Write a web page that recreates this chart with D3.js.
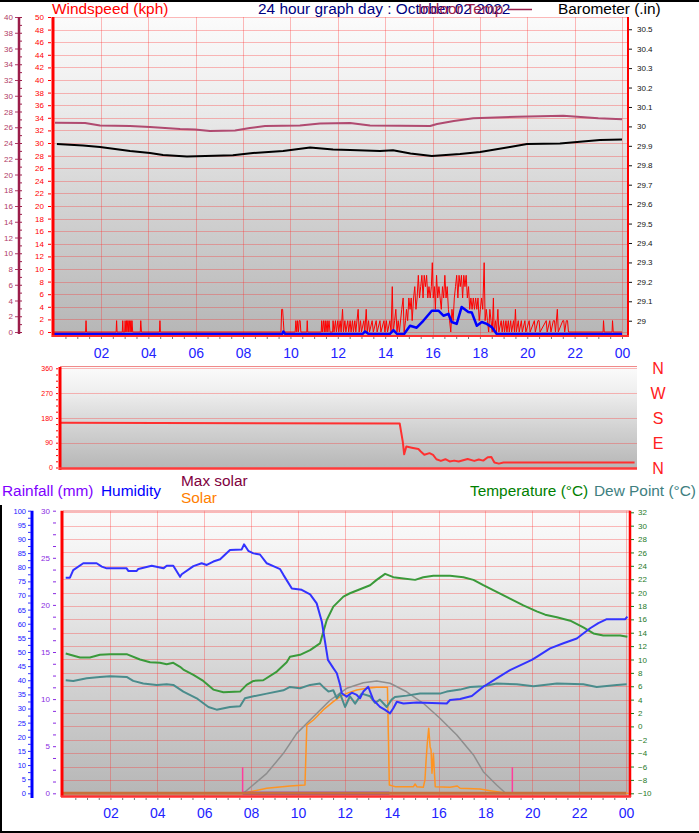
<!doctype html>
<html lang="en">
<head>
<meta charset="utf-8">
<title>24 hour graph day : October 02 2022</title>
<script src="https://cdn.jsdelivr.net/npm/d3@7"></script>
<style>
  body { margin: 0; background: #fff; }
  svg text { font-family: "Liberation Sans", Arial, sans-serif; }
</style>
</head>
<body>
<svg width="699" height="833"></svg>
<script>
// ---------- data (hour of day, value) ----------
var hourTicks = [2, 4, 6, 8, 10, 12, 14, 16, 18, 20, 22, 24];
var hourLabels = ['02', '04', '06', '08', '10', '12', '14', '16', '18', '20', '22', '00'];

// top panel: wind gust / average (kph), barometer (in), indoor temp (C)
var gust = [
  [0,0],[1.35,0],[1.37,1.8],[1.39,0],[2.64,0],[2.66,1.8],[2.68,0],[2.9,0],[2.92,1.8],[2.94,0],
  [3.0,0],[3.02,1.8],[3.05,0],[3.08,1.8],[3.1,0],[3.13,1.8],[3.15,1.8],[3.17,0],[3.2,1.8],[3.23,0],
  [3.26,1.8],[3.28,0],[3.31,1.8],[3.34,0],[3.66,0],[3.68,1.8],[3.71,0],[4.47,0],[4.49,1.8],[4.51,0],
  [9.6,0],[9.63,3.6],[9.67,3.6],[9.7,1.8],[9.73,0],[10.2,0],[10.23,1.8],[10.27,0],[10.3,1.8],[10.34,0],
  [10.37,1.8],[10.41,1.8],[10.44,0],[10.69,0],[10.71,1.8],[10.73,0],[11.3,0],[11.32,1.8],[11.35,0],
  [11.4,1.8],[11.43,0],[11.47,1.8],[11.5,0],[11.55,1.8],[11.58,0],[11.63,1.8],[11.67,0],[11.78,0],
  [11.8,1.8],[11.84,0],[11.9,1.8],[11.94,0],[12.0,1.8],[12.04,0],[12.1,1.8],[12.14,0],[12.2,3.6],
  [12.24,0],[12.3,1.8],[12.34,0],[12.42,1.8],[12.46,0],[12.52,1.8],[12.56,0],[12.62,1.8],[12.66,0],
  [12.72,1.8],[12.76,0],[12.86,3.6],[12.9,0],[12.96,1.8],[13.0,0],[13.1,1.8],[13.14,0],[13.2,3.6],
  [13.24,0],[13.3,1.8],[13.34,0],[13.45,1.8],[13.5,0],[13.62,1.8],[13.66,0],[13.78,1.8],[13.82,0],
  [13.95,1.8],[13.99,0],[14.05,1.8],[14.1,0],[14.2,1.8],[14.25,0],[14.3,7.2],[14.34,0],[14.4,1.8],
  [14.45,3.6],[14.5,0],[14.55,1.8],[14.6,0],[14.7,3.6],[14.76,5.4],[14.8,0],[14.86,1.8],[14.9,3.6],
  [14.95,1.8],[15.0,5.4],[15.05,3.6],[15.1,5.4],[15.14,1.8],[15.2,5.4],[15.25,7.2],[15.3,3.6],
  [15.35,5.4],[15.4,9],[15.45,5.4],[15.5,7.2],[15.55,9],[15.6,5.4],[15.65,9],[15.7,7.2],[15.75,9],
  [15.8,5.4],[15.85,7.2],[15.9,5.4],[15.95,7.2],[15.99,11],[16.03,5.4],[16.08,7.2],[16.12,3.6],
  [16.17,9],[16.22,5.4],[16.27,7.2],[16.32,5.4],[16.37,3.6],[16.42,7.2],[16.47,5.4],[16.52,9],
  [16.57,5.4],[16.62,7.2],[16.67,3.6],[16.72,1.8],[16.77,0],[16.82,3.6],[16.87,1.8],[16.92,5.4],
  [16.97,7.2],[17.02,9],[17.07,5.4],[17.12,9],[17.17,7.2],[17.22,9],[17.27,5.4],[17.32,9],[17.37,7.2],
  [17.42,9],[17.47,5.4],[17.52,7.2],[17.57,3.6],[17.62,5.4],[17.67,3.6],[17.72,5.4],[17.77,3.6],
  [17.82,5.4],[17.87,3.6],[17.92,5.4],[17.97,1.8],[18.02,3.6],[18.07,5.4],[18.12,3.6],[18.18,11],
  [18.22,1.8],[18.27,3.6],[18.32,1.8],[18.37,0],[18.42,3.6],[18.47,1.8],[18.52,0],[18.57,5.4],
  [18.6,0],[18.66,1.8],[18.7,0],[18.76,3.6],[18.8,0],[18.9,1.8],[18.94,0],[19.0,1.8],[19.04,0],
  [19.1,1.8],[19.14,0],[19.2,1.8],[19.24,0],[19.3,1.8],[19.34,0],[19.42,1.8],[19.46,0],[19.5,3.6],
  [19.54,0],[19.62,1.8],[19.66,0],[19.75,1.8],[19.79,0],[19.9,1.8],[19.94,0],[20.08,1.8],[20.12,0],
  [20.3,1.8],[20.34,0],[20.45,1.8],[20.5,1.8],[20.54,0],[20.8,1.8],[20.84,0],[20.95,1.8],[21.0,0],
  [21.1,1.8],[21.15,1.8],[21.19,0],[21.27,3.6],[21.31,0],[21.5,1.8],[21.54,1.8],[21.58,0],
  [21.65,1.8],[21.7,1.8],[21.74,0],[23.2,0],[23.22,1.8],[23.25,0],[23.58,0],[23.6,1.8],[23.63,0],[24,0]
];
var windAvg = [
  [0,0],[9.65,0],[9.7,0.4],[9.78,0],[13.05,0],[13.15,0.4],[13.3,0],[14.2,0],[14.35,0.6],[14.5,0],
  [14.8,0],[15.05,1.3],[15.33,1.0],[15.61,2.1],[15.97,3.7],[16.25,3.7],[16.46,2.9],[16.67,3.2],
  [16.81,1.9],[17.02,1.6],[17.23,4.3],[17.51,3.5],[17.66,3.4],[17.87,1.3],[18.08,1.9],[18.29,1.6],
  [18.5,1.1],[18.71,0],[24,0]
];
var barometer = [
  [0.14,29.909],[1.24,29.902],[1.96,29.894],[3.23,29.873],[4.07,29.863],[4.62,29.853],[5.63,29.845],
  [7.57,29.851],[8.42,29.863],[9.69,29.873],[10.83,29.891],[11.8,29.881],[12.52,29.879],[13.78,29.873],
  [14.33,29.877],[15.07,29.861],[15.97,29.848],[17.16,29.858],[18.01,29.868],[19.27,29.894],
  [19.99,29.909],[21.38,29.912],[23.07,29.930],[24.0,29.933]
];
var indoorTemp = [
  [0.06,26.58],[1.33,26.54],[1.96,26.22],[3.23,26.16],[4.07,26.03],[5.34,25.78],[5.97,25.71],
  [6.6,25.52],[7.66,25.59],[8.29,25.9],[8.93,26.16],[10.4,26.22],[11.25,26.48],[12.52,26.54],
  [13.36,26.22],[15.9,26.16],[16.19,26.41],[16.9,26.79],[17.72,27.14],[19.57,27.34],[21.52,27.47],
  [23.0,27.14],[24.0,27.01]
];

// middle panel: wind direction (degrees)
var windDir = [
  [0.05,162],[14.43,160],[14.56,94],[14.62,48],[14.71,76],[14.94,72],[15.22,67],[15.32,58],[15.47,46],
  [15.69,52],[15.84,46],[15.98,30],[16.17,24],[16.36,30],[16.54,22],[16.73,25],[16.92,22],[17.3,31],
  [17.58,24],[17.77,29],[17.96,25],[18.15,37],[18.3,38],[18.43,18],[18.62,14],[18.81,18],[24.35,18]
];
var dirTicks = [0, 90, 180, 270, 360];
var compassLabels = ['N', 'E', 'S', 'W', 'N'];

// bottom panel: humidity (%), temperature / dew point (C), solar (W/m2), rain (mm)
var humidity = [
  [0.09,76.3],[0.27,76.3],[0.41,79],[0.84,81.4],[1.41,81.4],[1.63,80.2],[1.84,79.6],[2.69,79.6],
  [2.76,78.7],[3.12,78.7],[3.19,79.4],[3.76,80.5],[4.26,79.6],[4.4,80.5],[4.68,80.5],[4.97,76.6],
  [5.04,77.5],[5.54,80.4],[5.89,81.4],[6.11,80.8],[6.39,82],[6.68,82.8],[7.1,86.1],[7.6,86.3],
  [7.7,88.1],[7.88,85.8],[8.1,84.9],[8.38,84.5],[8.67,81.4],[8.95,80.4],[9.24,79.3],[9.38,77.3],
  [9.74,72.5],[10.16,72],[10.52,70.4],[10.8,67.2],[11.02,60.7],[11.28,47.2],[11.51,44.3],[11.66,42.5],
  [11.8,38.3],[11.87,35.4],[12.08,34.2],[12.3,35.6],[12.51,34.8],[12.65,33.6],[12.79,36],[13.0,37.7],
  [13.22,33],[13.5,30.6],[13.72,29.5],[13.93,28.3],[14.07,30.1],[14.22,32.4],[14.5,31.8],[15.07,32.1],
  [16.35,31.8],[16.49,33],[16.92,33.4],[17.42,34.4],[17.91,37.7],[18.48,40.7],[19.05,43.6],
  [19.98,47.2],[20.19,48.3],[20.76,51.3],[21.33,53.1],[21.9,54.8],[22.47,58.4],[22.82,60.2],
  [23.18,61.6],[23.96,61.6],[24.06,62.5]
];
var temperature = [
  [0.09,10.9],[0.7,10.3],[1.12,10.3],[1.55,10.7],[1.98,10.8],[2.69,10.8],[3.26,10.0],[3.69,9.6],
  [4.11,9.5],[4.4,9.3],[4.68,9.5],[4.97,8.9],[5.11,8.5],[5.54,7.7],[5.96,6.8],[6.39,5.5],[6.82,5.1],
  [7.53,5.2],[7.81,6.2],[8.1,6.8],[8.52,6.9],[9.1,8.2],[9.52,9.6],[9.66,10.4],[10.09,10.7],[10.52,11.4],
  [10.94,12.4],[11.23,15.9],[11.51,17.9],[11.94,19.4],[12.22,19.9],[12.65,20.5],[13.08,21.1],
  [13.36,21.9],[13.72,22.8],[14.07,22.3],[14.5,22.1],[15.0,21.9],[15.35,22.3],[15.78,22.5],
  [16.49,22.5],[17.06,22.3],[17.49,21.9],[17.91,21.1],[18.48,20.1],[19.05,19.1],[19.62,18.1],
  [20.19,17.2],[20.55,16.7],[21.05,16.3],[21.62,15.8],[22.18,14.8],[22.61,13.9],[23.03,13.6],
  [23.75,13.6],[24.06,13.4]
];
var dewPoint = [
  [0.09,6.9],[0.41,6.8],[0.99,7.2],[1.55,7.4],[1.98,7.5],[2.69,7.4],[2.97,6.8],[3.4,6.4],[3.97,6.2],
  [4.4,6.3],[4.68,6.2],[5.11,5.2],[5.68,4.2],[6.18,2.9],[6.53,2.5],[7.1,2.9],[7.53,3.0],[7.74,4.2],
  [8.1,4.5],[8.67,4.9],[9.38,5.4],[9.66,5.9],[10.09,5.7],[10.52,6.2],[10.94,6.4],[11.08,5.9],
  [11.3,5.2],[11.51,5.4],[11.66,4.2],[11.8,4.9],[12.01,2.9],[12.22,4.5],[12.44,3.4],[12.72,4.9],
  [13.08,4.5],[13.29,3.5],[13.5,4.0],[13.79,2.9],[14.0,4.0],[14.14,4.4],[14.64,4.6],[15.21,4.9],
  [16.06,4.9],[16.35,5.2],[16.92,5.5],[17.35,5.9],[17.91,6.0],[18.48,6.4],[19.34,6.3],[20.05,6.0],
  [21.05,6.4],[22.18,6.3],[22.75,5.9],[23.61,6.2],[24.03,6.3]
];
var maxSolar = [
  [7.67,0],[8.67,99],[9.38,198],[9.95,297],[10.66,379],[11.37,461],[12.08,520],[12.79,548],
  [13.36,556],[13.93,545],[14.64,503],[15.35,446],[16.06,372],[16.78,289],[17.49,190],[17.91,107],
  [18.48,41],[18.84,3],[18.97,0]
];
var solar = [
  [0,0],[7.64,0],[8.67,25],[9.66,36],[10.3,41],[10.38,338],[10.66,363],[11.08,413],[11.51,454],
  [11.8,479],[12.08,495],[12.51,512],[12.94,520],[13.36,525],[13.82,525],[13.9,41],[14.14,33],
  [14.93,33],[15.0,46],[15.07,33],[15.35,30],[15.42,66],[15.47,165],[15.52,248],[15.58,322],
  [15.64,231],[15.68,215],[15.72,99],[15.78,198],[15.81,132],[15.86,33],[16.49,30],[16.8,36],
  [16.92,25],[17.77,21],[18.2,13],[18.77,3],[18.91,0],[24.1,0]
];
var rain = [[7.64,0],[13.9,0]];
var sunMarks = [7.64, 19.15];

// ---------- helpers ----------
var svg = d3.select('svg');
var FONT = '"Liberation Sans", Arial, sans-serif';

var defs = svg.append('defs');
var grad = defs.append('linearGradient').attr('id', 'panelBg')
  .attr('x1', 0).attr('y1', 0).attr('x2', 0).attr('y2', 1);
grad.append('stop').attr('offset', '0%').attr('stop-color', '#fbfbfb');
grad.append('stop').attr('offset', '22%').attr('stop-color', '#f0f0f0');
grad.append('stop').attr('offset', '60%').attr('stop-color', '#d2d2d2');
grad.append('stop').attr('offset', '100%').attr('stop-color', '#b6b6b6');

var line = function(g, data, x, y, color, width, curve){
  return g.append('path').datum(data)
    .attr('fill', 'none')
    .attr('stroke', color)
    .attr('stroke-width', width)
    .attr('stroke-linejoin', 'round')
    .attr('d', d3.line().x(function(d){ return x(d[0]); }).y(function(d){ return y(d[1]); }).curve(curve || d3.curveLinear));
};

// grid: translucent red so it reads pink on the light top and reddish on the grey bottom
var hGrid = function(g, y, vals, x0, x1){
  g.selectAll(null).data(vals).enter().append('line')
    .attr('x1', x0).attr('x2', x1)
    .attr('y1', function(d){ return Math.round(y(d)) + 0.5; })
    .attr('y2', function(d){ return Math.round(y(d)) + 0.5; })
    .attr('stroke', '#ff2a2a').attr('stroke-opacity', 0.32).attr('stroke-width', 1);
};
var vGrid = function(g, x, vals, y0, y1){
  g.selectAll(null).data(vals).enter().append('line')
    .attr('y1', y0).attr('y2', y1)
    .attr('x1', function(d){ return Math.round(x(d)) + 0.5; })
    .attr('x2', function(d){ return Math.round(x(d)) + 0.5; })
    .attr('stroke', '#ff2a2a').attr('stroke-opacity', 0.32).attr('stroke-width', 1);
};

var styleAxis = function(sel, color, size){
  sel.attr('font-family', FONT).attr('font-size', size);
  sel.select('.domain').remove();
  sel.selectAll('line').attr('stroke', color);
  sel.selectAll('text').attr('fill', color);
};

var vbar = function(x, y0, y1, color, w){
  svg.append('line').attr('x1', x).attr('x2', x).attr('y1', y0).attr('y2', y1)
    .attr('stroke', color).attr('stroke-width', w);
};
var hbar = function(y, x0, x1, color, w){
  svg.append('line').attr('x1', x0).attr('x2', x1).attr('y1', y).attr('y2', y)
    .attr('stroke', color).attr('stroke-width', w);
};

var txt = function(x, y, s, color, size, anchor){
  return svg.append('text').attr('x', x).attr('y', y).text(s)
    .attr('fill', color).attr('font-size', size).attr('font-family', FONT)
    .attr('text-anchor', anchor || 'start');
};

// ---------- top panel ----------
var topP = { x0: 54, x1: 628, y0: 17, y1: 335 };
var xTop = d3.scaleLinear().domain([0, 24]).range([53.6, 622]);
var yWind = d3.scaleLinear().domain([0, 50]).range([332, 17]);
var yIndoor = d3.scaleLinear().domain([0, 40]).range([332, 17]);
var yBaro = d3.scaleLinear().domain([28.942, 30.563]).range([332, 17]);

svg.append('rect').attr('x', topP.x0).attr('y', topP.y0).attr('width', topP.x1 - topP.x0).attr('height', topP.y1 - topP.y0)
  .attr('fill', 'url(#panelBg)');
var gTop = svg.append('g');
hGrid(gTop, yWind, d3.range(0, 51, 2), topP.x0, topP.x1);
vGrid(gTop, xTop, hourTicks, topP.y0, topP.y1);

line(gTop, indoorTemp, xTop, yIndoor, '#b04a70', 2);
line(gTop, barometer, xTop, yBaro, '#000000', 2);
line(gTop, gust, xTop, yWind, '#ff0000', 1);
line(gTop, windAvg, xTop, yWind, '#0000ff', 2.5).attr('transform', 'translate(0,2)');

vbar(53, topP.y0, topP.y1 + 2, '#ff0000', 3);
vbar(628, topP.y0, topP.y1 + 2, '#ff0000', 2);
hbar(336, 52, 629, '#ff3030', 2);

svg.append('g').attr('transform', 'translate(51,0)')
  .call(d3.axisLeft(yWind).tickValues(d3.range(0, 51, 2)).tickSize(3).tickPadding(4))
  .call(styleAxis, '#ff0000', 8);
svg.append('g').attr('transform', 'translate(19,0)')
  .call(d3.axisRight(yIndoor).tickValues(d3.range(0, 40.5, 1)).tickSize(3).tickFormat(''))
  .call(styleAxis, '#9b1d4a', 8);
svg.append('g').attr('transform', 'translate(18,0)')
  .call(d3.axisLeft(yIndoor).tickValues(d3.range(0, 41, 2)).tickSize(3).tickPadding(2))
  .call(styleAxis, '#b03a66', 8);
vbar(19, topP.y0, topP.y1 - 1, '#9b1d4a', 2.5);
svg.append('g').attr('transform', 'translate(629,0)')
  .call(d3.axisRight(yBaro).tickValues(d3.range(29, 30.55, 0.1)).tickSize(3).tickPadding(5)
    .tickFormat(function(d){ return d3.format('.1f')(d).replace(/\.0$/, ''); }))
  .call(styleAxis, '#111111', 8);
svg.append('g').attr('transform', 'translate(0,337)')
  .call(d3.axisBottom(xTop).tickValues(d3.range(0.5, 24.01, 0.5)).tickSize(2).tickFormat(''))
  .call(styleAxis, '#777777', 8);
svg.append('g').attr('transform', 'translate(0,336)')
  .call(d3.axisBottom(xTop).tickValues(hourTicks).tickSize(0).tickPadding(12)
    .tickFormat(function(d, i){ return hourLabels[i]; }))
  .call(styleAxis, '#2222ff', 14);

// header texts (the reference draws the title and the indoor legend on top of each other)
txt(52, 13.5, 'Windspeed (kph)', '#ff0000', 15.4);
txt(258, 13.5, '24 hour graph day : October 02 2022', '#000080', 15.4);
txt(418, 13.5, 'Indoor Temp', '#9b1d4a', 15.4);
hbar(9.5, 508, 532, '#9b1d4a', 1.5);
txt(558, 13.5, 'Barometer (.in)', '#000000', 15.4);

// ---------- middle panel: wind direction ----------
var midP = { x0: 60, x1: 637, y0: 367, y1: 469 };
var xMid = d3.scaleLinear().domain([0, 24]).range([58, 626.3]);
var yDir = d3.scaleLinear().domain([0, 360]).range([467.5, 368.3]);

svg.append('rect').attr('x', midP.x0).attr('y', midP.y0).attr('width', midP.x1 - midP.x0).attr('height', midP.y1 - midP.y0)
  .attr('fill', 'url(#panelBg)');
var gMid = svg.append('g');
hGrid(gMid, yDir, [90, 180, 270, 360], midP.x0, midP.x1);
hbar(366.5, midP.x0, midP.x1, '#f08a8a', 1);
line(gMid, windDir, xMid, yDir, '#ff3030', 2);
vbar(60, midP.y0, midP.y1 + 1, '#ff0000', 3);
hbar(468.5, 59, midP.x1, '#ff3a3a', 2.5);
svg.append('g').attr('transform', 'translate(58,0)')
  .call(d3.axisLeft(yDir).tickValues(d3.range(0, 361, 22.5)).tickSize(2).tickFormat(''))
  .call(styleAxis, '#ff0000', 7);
svg.append('g').attr('transform', 'translate(55,0)')
  .call(d3.axisLeft(yDir).tickValues(dirTicks).tickSize(0).tickPadding(2))
  .call(styleAxis, '#ff0000', 7);
svg.selectAll('.compass').data(dirTicks).enter().append('text')
  .attr('x', 658).attr('y', function(d){ return yDir(d) + 6; })
  .attr('text-anchor', 'middle').attr('fill', '#ff2020')
  .attr('font-size', 16).attr('font-family', FONT)
  .text(function(d, i){ return compassLabels[i]; });

// ---------- bottom panel ----------
var botP = { x0: 63, x1: 630, y0: 510.7, y1: 796 };
var xBot = d3.scaleLinear().domain([0, 24]).range([63.6, 626]);
var yRain = d3.scaleLinear().domain([0, 30]).range([793.3, 510.7]);
var yHum = d3.scaleLinear().domain([0, 100]).range([793.3, 510.7]);
var yTemp = d3.scaleLinear().domain([-10, 32]).range([793.3, 512.3]);
var ySolar = d3.scaleLinear().domain([0, 1400]).range([793.3, 510.7]);

txt(2, 496, 'Rainfall (mm)', '#8000ff', 15.4);
txt(101, 496, 'Humidity', '#0000ff', 15.4);
txt(181, 486, 'Max solar', '#800040', 15.4);
txt(181, 503, 'Solar', '#ff8000', 15.4);
txt(470, 496, 'Temperature (\u00B0C)', '#008000', 15.4);
txt(594, 496, 'Dew Point (\u00B0C)', '#408080', 15.4);

svg.append('rect').attr('x', botP.x0).attr('y', botP.y0).attr('width', botP.x1 - botP.x0).attr('height', botP.y1 - botP.y0)
  .attr('fill', 'url(#panelBg)');
var gBot = svg.append('g');
hGrid(gBot, yTemp, d3.range(-10, 33, 2), botP.x0, botP.x1);
hbar(511, botP.x0, botP.x1, '#f07a7a', 1);
vGrid(gBot, xBot, hourTicks, botP.y0, botP.y1);

hbar(yRain(0), botP.x0, botP.x1 - 4, '#c8703a', 3);
line(gBot, maxSolar, xBot, ySolar, '#8e8e8e', 1.5);
line(gBot, solar, xBot, ySolar, '#ff9422', 1.5);
line(gBot, dewPoint, xBot, yTemp, '#4a8c8c', 2);
line(gBot, temperature, xBot, yTemp, '#3a9a3a', 2);
line(gBot, humidity, xBot, yHum, '#3333ff', 2);
line(gBot, rain, xBot, yRain, '#8000ff', 3);
gBot.selectAll('.sun').data(sunMarks).enter().append('line')
  .attr('x1', function(d){ return xBot(d); }).attr('x2', function(d){ return xBot(d); })
  .attr('y1', yRain(0)).attr('y2', yRain(0) - 26)
  .attr('stroke', '#ff3c9c').attr('stroke-width', 1.5);

vbar(62, botP.y0, botP.y1 + 1, '#ff0000', 3);
vbar(630, botP.y0, botP.y1 + 1, '#ff0000', 2.5);
hbar(796.5, 61, 631, '#ff3030', 2.5);

// humidity axis
vbar(32, botP.y0, 798, '#0000ff', 3);
svg.append('g').attr('transform', 'translate(31,0)')
  .call(d3.axisLeft(yHum).tickValues(d3.range(0, 100.1, 2.5)).tickSize(3).tickFormat(''))
  .call(styleAxis, '#3030ff', 7);
svg.append('g').attr('transform', 'translate(28,0)')
  .call(d3.axisLeft(yHum).tickValues(d3.range(0, 101, 5)).tickSize(0).tickPadding(2))
  .call(styleAxis, '#2020ff', 7.5);
// rain axis
svg.append('g').attr('transform', 'translate(56,0)')
  .call(d3.axisLeft(yRain).tickValues(d3.range(0, 30.1, 1.25)).tickSize(3).tickPadding(3)
    .tickFormat(function(d){ return d % 5 === 0 ? d : ''; }))
  .call(styleAxis, '#8a2be2', 8);
// temperature axis
svg.append('g').attr('transform', 'translate(631,0)')
  .call(d3.axisRight(yTemp).tickValues(d3.range(-10, 33, 2)).tickSize(3).tickPadding(4))
  .call(styleAxis, '#1f7a1f', 8);
svg.append('g').attr('transform', 'translate(0,798)')
  .call(d3.axisBottom(xBot).tickValues(d3.range(0.5, 24.01, 0.5)).tickSize(2).tickFormat(''))
  .call(styleAxis, '#777777', 8);
svg.append('g').attr('transform', 'translate(0,797)')
  .call(d3.axisBottom(xBot).tickValues(hourTicks).tickSize(0).tickPadding(11)
    .tickFormat(function(d, i){ return hourLabels[i]; }))
  .call(styleAxis, '#2222ff', 14);

// frame
hbar(1, 0, 699, '#000000', 2);
hbar(832, 0, 699, '#000000', 2);
vbar(1, 505, 833, '#000000', 2);
</script>
</body>
</html>
